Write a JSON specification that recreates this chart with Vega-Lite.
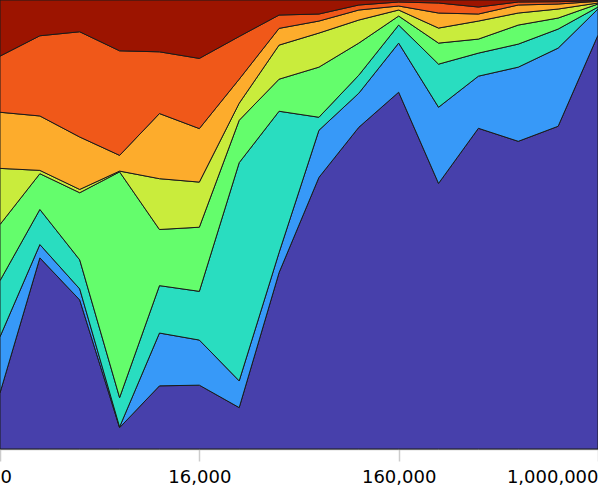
{
  "$schema": "https://vega.github.io/schema/vega-lite/v6.json",
  "width": 598,
  "height": 449,
  "padding": {"left": 0, "right": 0, "top": 0, "bottom": 42},
  "autosize": {"type": "none"},
  "background": "white",
  "config": {"view": {"stroke": null}, "font": "DejaVu Sans"},
  "datasets": {
    "rows": [
      {"i":0,"k":1,"v":56},{"i":0,"k":2,"v":56},{"i":0,"k":3,"v":56},{"i":0,"k":4,"v":56},{"i":0,"k":5,"v":56},{"i":0,"k":6,"v":56},{"i":0,"k":7,"v":56},{"i":0,"k":8,"v":56},
      {"i":1,"k":1,"v":190.7},{"i":1,"k":2,"v":13.3},{"i":1,"k":3,"v":35},{"i":1,"k":4,"v":35.7},{"i":1,"k":5,"v":3.3},{"i":1,"k":6,"v":54.3},{"i":1,"k":7,"v":80},{"i":1,"k":8,"v":35.7},
      {"i":2,"k":1,"v":148.7},{"i":2,"k":2,"v":11},{"i":2,"k":3,"v":29},{"i":2,"k":4,"v":67},{"i":2,"k":5,"v":3.3},{"i":2,"k":6,"v":52.3},{"i":2,"k":7,"v":105},{"i":2,"k":8,"v":31.7},
      {"i":3,"k":1,"v":21.3},{"i":3,"k":2,"v":0.7},{"i":3,"k":3,"v":29.3},{"i":3,"k":4,"v":225.2},{"i":3,"k":5,"v":0.8},{"i":3,"k":6,"v":15.7},{"i":3,"k":7,"v":104.3},{"i":3,"k":8,"v":50.7},
      {"i":4,"k":1,"v":63},{"i":4,"k":2,"v":52.7},{"i":4,"k":3,"v":47.3},{"i":4,"k":4,"v":56},{"i":4,"k":5,"v":50.7},{"i":4,"k":6,"v":65},{"i":4,"k":7,"v":61.6},{"i":4,"k":8,"v":51.7},
      {"i":5,"k":1,"v":63.7},{"i":5,"k":2,"v":45},{"i":5,"k":3,"v":48.6},{"i":5,"k":4,"v":64},{"i":5,"k":5,"v":45},{"i":5,"k":6,"v":53.4},{"i":5,"k":7,"v":70},{"i":5,"k":8,"v":58.3},
      {"i":6,"k":1,"v":41.3},{"i":6,"k":2,"v":26.7},{"i":6,"k":3,"v":217.7},{"i":6,"k":4,"v":42.3},{"i":6,"k":5,"v":17},{"i":6,"k":6,"v":24},{"i":6,"k":7,"v":42.6},{"i":6,"k":8,"v":36.4},
      {"i":7,"k":1,"v":176},{"i":7,"k":2,"v":20},{"i":7,"k":3,"v":141},{"i":7,"k":4,"v":32},{"i":7,"k":5,"v":34},{"i":7,"k":6,"v":16.7},{"i":7,"k":7,"v":13.3},{"i":7,"k":8,"v":15},
      {"i":8,"k":1,"v":271},{"i":8,"k":2,"v":47},{"i":8,"k":3,"v":13},{"i":8,"k":4,"v":50},{"i":8,"k":5,"v":34},{"i":8,"k":6,"v":12},{"i":8,"k":7,"v":7},{"i":8,"k":8,"v":14},
      {"i":9,"k":1,"v":321},{"i":9,"k":2,"v":34},{"i":9,"k":3,"v":18},{"i":9,"k":4,"v":32},{"i":9,"k":5,"v":23},{"i":9,"k":6,"v":10},{"i":9,"k":7,"v":5},{"i":9,"k":8,"v":5},
      {"i":10,"k":1,"v":356},{"i":10,"k":2,"v":49},{"i":10,"k":3,"v":18},{"i":10,"k":4,"v":9},{"i":10,"k":5,"v":6},{"i":10,"k":6,"v":4},{"i":10,"k":7,"v":4},{"i":10,"k":8,"v":2},
      {"i":11,"k":1,"v":265},{"i":11,"k":2,"v":76},{"i":11,"k":3,"v":43},{"i":11,"k":4,"v":21},{"i":11,"k":5,"v":15},{"i":11,"k":6,"v":15},{"i":11,"k":7,"v":10},{"i":11,"k":8,"v":3},
      {"i":12,"k":1,"v":320},{"i":12,"k":2,"v":52},{"i":12,"k":3,"v":23},{"i":12,"k":4,"v":14},{"i":12,"k":5,"v":18},{"i":12,"k":6,"v":7},{"i":12,"k":7,"v":7},{"i":12,"k":8,"v":7},
      {"i":13,"k":1,"v":307},{"i":13,"k":2,"v":74},{"i":13,"k":3,"v":23},{"i":13,"k":4,"v":19},{"i":13,"k":5,"v":12},{"i":13,"k":6,"v":8},{"i":13,"k":7,"v":3},{"i":13,"k":8,"v":2},
      {"i":14,"k":1,"v":322},{"i":14,"k":2,"v":78},{"i":14,"k":3,"v":19},{"i":14,"k":4,"v":11},{"i":14,"k":5,"v":9},{"i":14,"k":6,"v":5},{"i":14,"k":7,"v":2.3},{"i":14,"k":8,"v":1.7},
      {"i":15,"k":1,"v":413},{"i":15,"k":2,"v":26},{"i":15,"k":3,"v":2},{"i":15,"k":4,"v":3},{"i":15,"k":5,"v":1},{"i":15,"k":6,"v":1.7},{"i":15,"k":7,"v":0.6},{"i":15,"k":8,"v":0.7}
    ]
  },
  "data": {"name": "rows"},
  "mark": {"type": "area", "stroke": "#1a1a1a", "strokeWidth": 1, "strokeJoin": "miter", "opacity": 1},
  "encoding": {
    "x": {
      "field": "i", "type": "quantitative",
      "scale": {"domain": [0, 15], "nice": false, "zero": false},
      "axis": {
        "title": null, "values": [0, 5, 10, 15], "grid": false,
        "labelExpr": "datum.value == 0 ? '0' : datum.value == 5 ? '16,000' : datum.value == 10 ? '160,000' : '1,000,000'",
        "labelFlush": true, "labelFontSize": 18, "labelColor": "#000", "labelFont": "DejaVu Sans",
        "domainColor": "#bbbbbb", "tickColor": "#cccccc", "tickSize": 12, "labelPadding": 7, "domainWidth": 1.5, "tickWidth": 1.5
      }
    },
    "y": {"field": "v", "type": "quantitative", "stack": "normalize", "axis": null, "scale": {"domain": [0, 1], "nice": false}},
    "color": {
      "field": "k", "type": "nominal", "legend": null,
      "scale": {"domain": [1,2,3,4,5,6,7,8], "range": ["#4740ab", "#3799f8", "#29ddc0", "#64fd6c", "#c9ec3c", "#fdac2c", "#f05819", "#9c1400"]}
    },
    "order": {"field": "k", "type": "quantitative", "sort": "ascending"}
  }
}
